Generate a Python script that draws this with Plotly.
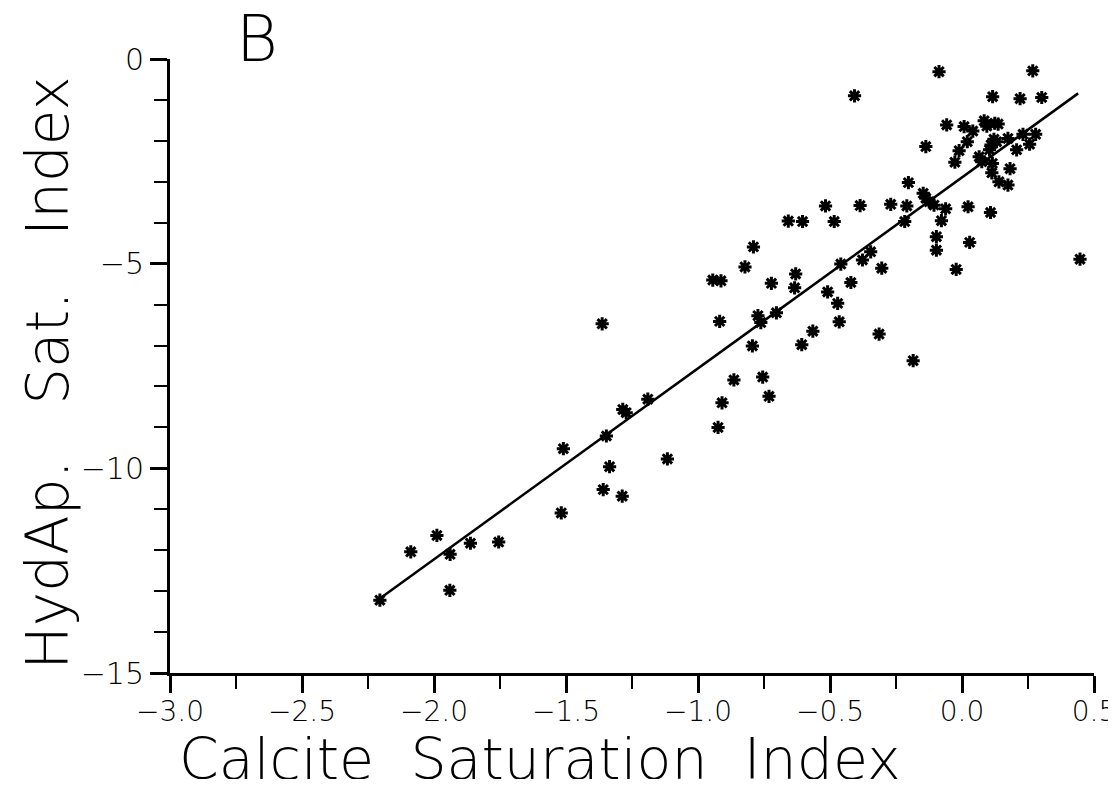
import plotly.graph_objects as go

# Calcite saturation index (x) vs hydroxyapatite saturation index (y)
calcite_si = [
    -2.205, -2.088, -1.989, -1.939, -1.940, -1.862, -1.755, -1.510, -1.518, -1.347,
    -1.335, -1.359, -1.363, -1.287, -1.285, -1.272, -1.190, -1.116, -0.944, -0.913,
    -0.918, -0.909, -0.924, -0.864, -0.822, -0.790, -0.794, -0.773, -0.762, -0.755,
    -0.731, -0.722, -0.703, -0.658, -0.630, -0.634, -0.604, -0.607, -0.565, -0.517,
    -0.509, -0.484, -0.471, -0.465, -0.459, -0.421, -0.407, -0.386, -0.377, -0.346,
    -0.314, -0.304, -0.270, -0.217, -0.209, -0.203, -0.185, -0.147, -0.137, -0.124,
    -0.106, -0.137, -0.097, -0.097, -0.087, -0.078, -0.062, -0.058, -0.027, -0.022,
    -0.011, 0.008, 0.020, 0.023, 0.029, 0.041, 0.065, 0.075, 0.084, 0.094,
    0.104, 0.108, 0.113, 0.115, 0.116, 0.121, 0.124, 0.131, 0.137, 0.110,
    0.140, 0.174, 0.174, 0.182, 0.207, 0.220, 0.231, 0.256, 0.268, 0.279,
    0.302, 0.447,
]
hydap_si = [
    -13.22, -12.04, -11.64, -12.10, -12.98, -11.83, -11.80, -9.52, -11.09, -9.21,
    -9.96, -10.52, -6.47, -10.68, -8.56, -8.64, -8.31, -9.77, -5.40, -5.42,
    -6.41, -8.40, -9.00, -7.84, -5.08, -4.59, -7.01, -6.27, -6.44, -7.77,
    -8.24, -5.48, -6.20, -3.96, -5.25, -5.59, -3.97, -6.98, -6.65, -3.59,
    -5.69, -3.97, -5.97, -6.42, -5.01, -5.46, -0.90, -3.58, -4.91, -4.71,
    -6.72, -5.11, -3.55, -3.97, -3.59, -3.02, -7.37, -3.28, -3.40, -3.49,
    -3.57, -2.14, -4.34, -4.67, -0.31, -3.95, -3.66, -1.61, -2.52, -5.14,
    -2.24, -1.65, -2.02, -3.61, -4.48, -1.76, -2.39, -2.51, -1.51, -1.64,
    -2.22, -3.75, -2.78, -2.55, -0.92, -1.96, -1.57, -2.02, -1.59, -2.10,
    -3.00, -3.08, -1.94, -2.68, -2.22, -0.97, -1.84, -2.08, -0.29, -1.84,
    -0.94, -4.89,
]

# Regression line end points
fit_x = [-2.205, 0.44]
fit_y = [-13.18, -0.84]

x_ticks = [-3.0, -2.5, -2.0, -1.5, -1.0, -0.5, 0.0, 0.5]
x_labels = ["\u22123.0", "\u22122.5", "\u22122.0", "\u22121.5", "\u22121.0", "\u22120.5", "0.0", "0.5"]
y_ticks = [0, -5, -10, -15]
y_labels = ["0", "\u22125", "\u221210", "\u221215"]

FONT = "DejaVu Sans"
W = 200

fig = go.Figure()
fig.add_trace(go.Scatter(
    x=fit_x, y=fit_y, mode="lines",
    line=dict(color="black", width=2.5), showlegend=False, hoverinfo="skip",
))
fig.add_trace(go.Scatter(
    x=calcite_si, y=hydap_si, mode="markers",
    marker=dict(symbol="asterisk-open", size=11, color="black",
                line=dict(color="black", width=3)),
    showlegend=False,
))

fig.update_layout(
    width=1108, height=771,
    margin=dict(l=162, r=22, t=51, b=106),
    paper_bgcolor="white", plot_bgcolor="white",
    font=dict(family=FONT, color="black", weight=W),
    xaxis=dict(
        range=[-3.0, 0.5], showgrid=False, zeroline=False, automargin=False,
        showline=True, linecolor="black", linewidth=3,
        ticks="outside", ticklen=17, tickwidth=2.5, tickcolor="black",
        tickvals=x_ticks, ticktext=x_labels, ticklabeloverflow="allow",
        ticklabelstandoff=-6,
        tickfont=dict(family=FONT, size=28, color="black", weight=W),
        minor=dict(dtick=0.25, ticks="outside", ticklen=13, tickwidth=2, tickcolor="black", showgrid=False),
    ),
    yaxis=dict(
        range=[-15, 0], showgrid=False, zeroline=False, automargin=False,
        showline=True, linecolor="black", linewidth=3,
        ticks="outside", ticklen=17, tickwidth=2.5, tickcolor="black",
        tickvals=y_ticks, ticktext=y_labels, ticklabeloverflow="allow",
        tickfont=dict(family=FONT, size=30, color="black", weight=W),
        minor=dict(dtick=1, ticks="outside", ticklen=13, tickwidth=2, tickcolor="black", showgrid=False),
    ),
    annotations=[
        dict(text="Calcite  Saturation  Index", xref="paper", yref="paper",
             x=0.400, y=-0.14, xanchor="center", yanchor="middle", showarrow=False,
             font=dict(family=FONT, size=57, color="black", weight=W)),
        dict(text="HydAp.   Sat.   Index", xref="paper", yref="paper",
             x=-0.132, y=0.489, xanchor="center", yanchor="middle", showarrow=False,
             textangle=-90,
             font=dict(family=FONT, size=58, color="black", weight=W)),
        dict(text="B", xref="paper", yref="paper",
             x=0.094, y=1.096, xanchor="center", yanchor="top", showarrow=False,
             font=dict(family=FONT, size=64, color="black", weight=W)),
    ],
)

fig.write_html("out.html")
